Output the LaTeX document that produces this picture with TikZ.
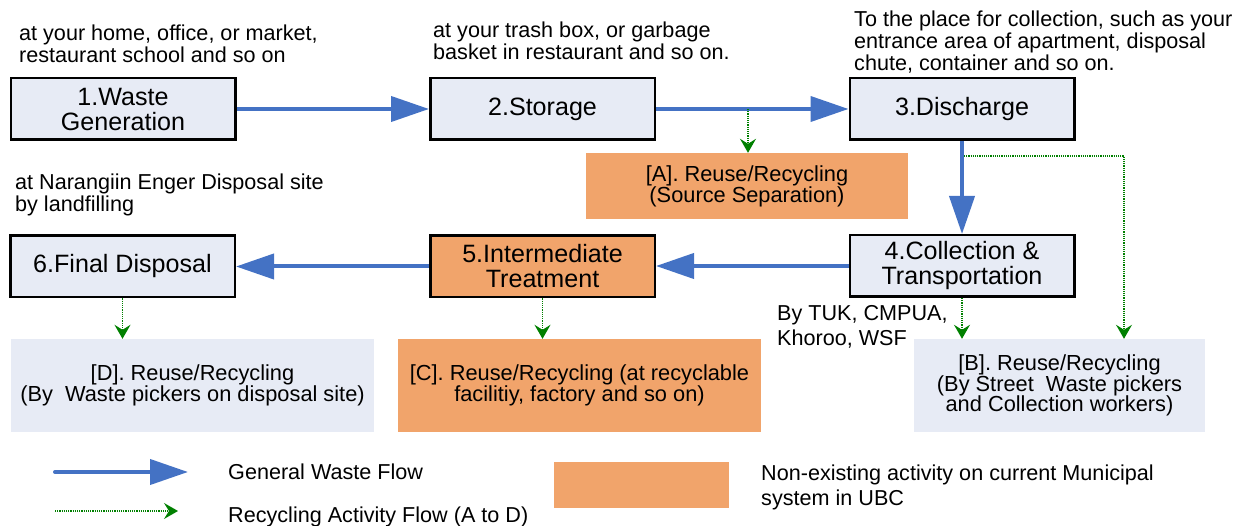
\documentclass[tikz,border=0pt]{standalone}
\usepackage{fontspec}
\setmainfont{Liberation Sans}
\usetikzlibrary{arrows.meta}
\definecolor{lightfill}{HTML}{E7EBF5}
\definecolor{orangefill}{HTML}{F1A46B}
\definecolor{flowblue}{HTML}{4472C4}
\definecolor{recgreen}{HTML}{008000}
\tikzset{
  mainbox/.style={draw=black, line width=2.5pt, fill=lightfill, minimum width=224.5pt, minimum height=61.5pt, align=center, inner sep=2pt, font=\fontsize{25.1}{25}\selectfont},
  recbox/.style={fill=lightfill, align=center, inner sep=0pt, font=\fontsize{21.8}{20.8}\selectfont},
  flow/.style={draw=flowblue, line width=4pt, -{Triangle[length=38pt,width=25pt]}},
  recflow/.style={draw=recgreen, line width=1.3pt, dash pattern=on 1.2pt off 1pt, -{Stealth[length=14pt,width=16pt,inset=5pt]}},
  note/.style={anchor=base west, align=left, inner sep=0pt, font=\fontsize{21.6}{22}\selectfont}
}
\begin{document}
\begin{tikzpicture}[x=1pt,y=-1pt]
\useasboundingbox (0,0) rectangle (1236,526);
% main boxes
\node[mainbox] (b1) at (123,109) {1.Waste\\Generation};
\node[mainbox] (b2) at (542.5,109) {2.Storage};
\node[mainbox] (b3) at (962,109) {3.Discharge};
\node[mainbox] (b4) at (962,266) {4.Collection \&\\Transportation};
\node[mainbox, fill=orangefill] (b5) at (542.5,266.5) {5.Intermediate\\Treatment};
\node[mainbox] (b6) at (122.5,266.5) {6.Final Disposal};
% recycling boxes
\node[recbox, fill=orangefill, minimum width=322pt, minimum height=66pt] (bA) at (747,186) {[A]. Reuse/Recycling\\(Source Separation)};
\node[recbox, minimum width=291pt, minimum height=93pt] (bB) at (1059.5,385.5) {[B]. Reuse/Recycling\\(By Street\ \ Waste pickers\\and Collection workers)};
\node[recbox, fill=orangefill, minimum width=363pt, minimum height=93pt] (bC) at (579.5,385.5) {[C]. Reuse/Recycling (at recyclable\\facilitiy, factory and so on)};
\node[recbox, minimum width=363pt, minimum height=93pt] (bD) at (192.5,385.5) {[D]. Reuse/Recycling\\(By\ \ Waste pickers on disposal site)};
% notes (anchored at the baseline of their last line)
\node[note] (n1) at (19,62.5) {at your home, office, or market,\\restaurant school and so on};
\node[note] (n2) at (433,59.5) {at your trash box, or garbage\\basket in restaurant and so on.};
\node[note] (n3) at (854,71) {To the place for collection, such as your\\entrance area of apartment, disposal\\chute, container and so on.};
\node[note] (n4) at (15,212) {at Narangiin Enger Disposal site\\by landfilling};
\node[note, font=\fontsize{21.6}{25}\selectfont] (n5) at (777,345) {By TUK, CMPUA,\\Khoroo, WSF};
% main flows
\draw[flow] (b1.east) -- (b2.west);
\draw[flow] (b2.east) -- (b3.west);
\draw[flow] (b3.south) -- (b4.north);
\draw[flow] (b4.west) -- (b5.east |- b4.west);
\draw[flow] (b5.west) -- (b6.east);
% recycling flows
\coordinate (cA) at (748,109);
\draw[recflow] (cA) -- (cA |- bA.north);
\coordinate (cB1) at (964,156);
\coordinate (cB2) at (1124,156);
\draw[recflow] (cB1) -- (cB2) -- (cB2 |- bB.north);
\draw[recflow] (b4.south) -- (b4.south |- bB.north);
\draw[recflow] (b5.south) -- (b5.south |- bC.north);
\draw[recflow] (b6.south) -- (b6.south |- bD.north);
% legend
\coordinate (lg1) at (55,472);
\coordinate (lg2) at (188,472);
\draw[flow, line cap=round] (lg1) -- (lg2);
\coordinate (lr1) at (55,511);
\coordinate (lr2) at (178,511);
\draw[recflow] (lr1) -- (lr2);
\node[fill=orangefill, minimum width=175pt, minimum height=46pt, inner sep=0pt] (lo) at (641.5,485) {};
\node[note] (lt1) at (228,479) {General Waste Flow};
\node[note] (lt2) at (228,522) {Recycling Activity Flow (A to D)};
\node[note, font=\fontsize{21.6}{25}\selectfont] (lt3) at (761,505) {Non-existing activity on current Municipal\\system in UBC};
\end{tikzpicture}
\end{document}
